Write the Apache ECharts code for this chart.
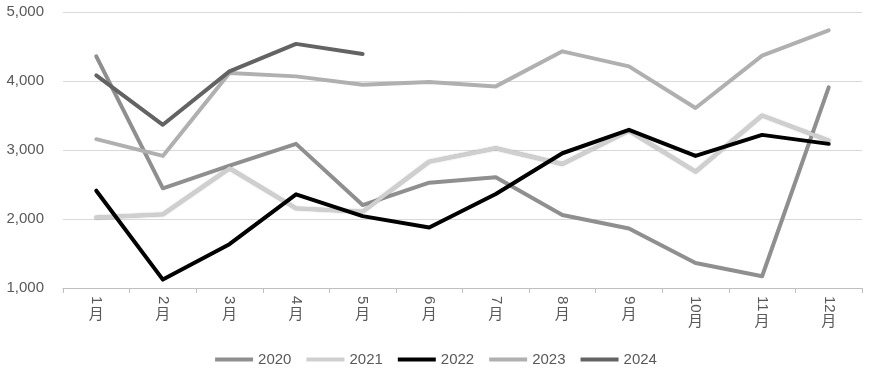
<!DOCTYPE html>
<html><head><meta charset="utf-8">
<script src="https://cdn.jsdelivr.net/npm/echarts@6/dist/echarts.min.js"></script>
<style>html,body{margin:0;padding:0;background:#fff}#c{width:872px;height:375px}</style>
</head><body><div id="c"></div>
<script>
const months = ['1','2','3','4','5','6','7','8','9','10','11','12'];
const monthSuffix = '月';
const yTicks = {min: 1000, max: 5000, interval: 1000};
const s2020 = [4357, 2445, 2773, 3089, 2202, 2526, 2605, 2057, 1863, 1363, 1170, 3907];
const s2021 = [2023, 2067, 2735, 2154, 2105, 2831, 3026, 2798, 3278, 2686, 3500, 3137];
const s2022 = [2410, 1122, 1635, 2357, 2042, 1878, 2362, 2953, 3292, 2914, 3219, 3089];
const s2023 = [3157, 2914, 4116, 4067, 3946, 3985, 3922, 4430, 4212, 3608, 4368, 4735];
const s2024 = [4081, 3365, 4140, 4538, 4392];
const seriesNames = ['2020','2021','2022','2023','2024'];
const seriesData = [s2020, s2021, s2022, s2023, s2024];
const colors = ['#8f8f8f', '#cfcfcf', '#000000', '#b0b0b0', '#636363'];

const font = '"Liberation Sans", Arial, sans-serif';
const chart = echarts.init(document.getElementById('c'), null, {renderer: 'canvas'});
chart.setOption({
  animation: false,
  grid: {left: 63, right: 10, top: 12, bottom: 87},
  legend: {
    bottom: 3, left: 'center',
    data: seriesNames,
    icon: 'rect', itemWidth: 38, itemHeight: 4, itemGap: 15,
    textStyle: {fontFamily: font, fontSize: 15, color: '#595959'}
  },
  xAxis: [{
    type: 'category', data: months, boundaryGap: true, position: 'bottom',
    axisLine: {lineStyle: {color: '#bfbfbf', width: 1}},
    axisTick: {show: true, length: 5, lineStyle: {color: '#bfbfbf'}},
    axisLabel: {rotate: -90, margin: 8, fontFamily: font, fontSize: 15, color: '#595959', interval: 0}
  }, {
    type: 'category', data: months, boundaryGap: true, position: 'bottom',
    axisLine: {show: false}, axisTick: {show: false},
    axisLabel: {
      margin: 0, interval: 0,
      formatter: v => (v.length > 1 ? '{b|' : '{a|') + monthSuffix + '}',
      rich: {
        a: {fontFamily: '"Noto Sans CJK SC", sans-serif', fontSize: 15, color: '#595959', padding: [18, 0, 0, 0]},
        b: {fontFamily: '"Noto Sans CJK SC", sans-serif', fontSize: 15, color: '#595959', padding: [25, 0, 0, 0]}
      }
    }
  }],
  yAxis: {
    type: 'value', min: yTicks.min, max: yTicks.max, interval: yTicks.interval,
    axisLine: {show: false}, axisTick: {show: false},
    splitLine: {lineStyle: {color: '#d9d9d9', width: 1}},
    axisLabel: {margin: 19, fontFamily: font, fontSize: 15, color: '#595959',
      formatter: v => v.toLocaleString('en-US')}
  },
  series: seriesNames.map((n, i) => ({
    name: n, type: 'line', data: seriesData[i], symbol: 'none',
    color: colors[i],
    lineStyle: Object.assign({width: 4, color: colors[i], cap: 'round', join: 'round'},
      n === '2021' ? {shadowColor: 'rgba(0,0,0,0.35)', shadowBlur: 1.5} : {}),
    z: 2 + i
  }))
});
</script></body></html>
